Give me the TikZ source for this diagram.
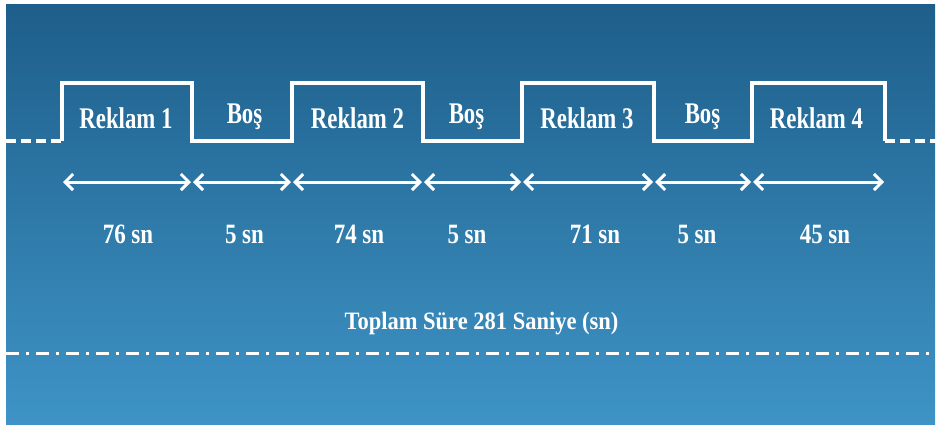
\documentclass[tikz,border=0pt]{standalone}
\usepackage{fontspec}
\usetikzlibrary{arrows.meta}
\newfontfamily\rkfont[FakeStretch=0.76]{Liberation Serif}
\newfontfamily\nbfont[FakeStretch=0.82]{Liberation Serif}
\newfontfamily\tpfont[FakeStretch=0.9]{Liberation Serif}
\definecolor{bgtop}{RGB}{30,94,138}
\definecolor{bgbot}{RGB}{62,148,198}
\tikzset{
  sig/.style={draw=white, line width=3.5pt, line join=miter},
  sigdash/.style={draw=white, line width=3.5pt, dash pattern=on 10pt off 5pt},
  dur/.style={draw=white, line width=3pt, {Straight Barb[length=8pt,width=16pt]}-{Straight Barb[length=8pt,width=16pt]}},
  adlbl/.style={text=white, anchor=base, inner sep=0pt, font=\rkfont\bfseries\fontsize{30}{30}\selectfont},
  numlbl/.style={text=white, anchor=base, inner sep=0pt, font=\nbfont\bfseries\fontsize{28}{28}\selectfont},
  totlbl/.style={text=white, anchor=base, inner sep=0pt, font=\tpfont\bfseries\fontsize{25}{25}\selectfont},
  axisline/.style={draw=white, line width=3pt, dash pattern=on 13pt off 7pt on 3pt off 7pt}
}
\begin{document}
\begin{tikzpicture}[x=1pt,y=-1pt]
\useasboundingbox (0,0) rectangle (937,424);
\shade[top color=bgtop, bottom color=bgbot] (6,4) rectangle (935,424);
% signal coordinates
\coordinate (s0) at (6,141);
\coordinate (a0) at (62,141);   \coordinate (a1) at (62,83);
\coordinate (b1) at (192,83);   \coordinate (b0) at (192,141);
\coordinate (c0) at (292,141);  \coordinate (c1) at (292,83);
\coordinate (d1) at (423,83);   \coordinate (d0) at (423,141);
\coordinate (e0) at (522,141);  \coordinate (e1) at (522,83);
\coordinate (f1) at (654,83);   \coordinate (f0) at (654,141);
\coordinate (g0) at (752,141);  \coordinate (g1) at (752,83);
\coordinate (h1) at (885,83);   \coordinate (h0) at (885,141);
\coordinate (s1) at (937,141);
\draw[sigdash] (s0) -- (a0);
\draw[sig] (a0) -- (a1) -- (b1) -- (b0) -- (c0) -- (c1) -- (d1) -- (d0) -- (e0) -- (e1) -- (f1) -- (f0) -- (g0) -- (g1) -- (h1) -- (h0);
\draw[sigdash] (h0) -- (s1);
% labels in signal
\node[adlbl] (r1) at (126,128) {Reklam 1};
\node[adlbl] (b1l) at (244.5,123) {Boş};
\node[adlbl] (r2) at (357.5,128) {Reklam 2};
\node[adlbl] (b2l) at (466.5,123) {Boş};
\node[adlbl] (r3) at (587,128) {Reklam 3};
\node[adlbl] (b3l) at (702.5,123) {Boş};
\node[adlbl] (r4) at (816.5,128) {Reklam 4};
% duration arrows
\coordinate (p0) at (63,182);
\coordinate (p1) at (192,182);
\coordinate (p2) at (292,182);
\coordinate (p3) at (423,182);
\coordinate (p4) at (522,182);
\coordinate (p5) at (654,182);
\coordinate (p6) at (752,182);
\coordinate (p7) at (884,182);
\draw[dur] (p0) -- ([xshift=-1pt]p1);
\draw[dur] ([xshift=1pt]p1) -- ([xshift=-1pt]p2);
\draw[dur] ([xshift=1pt]p2) -- ([xshift=-1pt]p3);
\draw[dur] ([xshift=1pt]p3) -- ([xshift=-1pt]p4);
\draw[dur] ([xshift=1pt]p4) -- ([xshift=-1pt]p5);
\draw[dur] ([xshift=1pt]p5) -- ([xshift=-1pt]p6);
\draw[dur] ([xshift=1pt]p6) -- (p7);
% durations
\node[numlbl] (n1) at (128,243) {76 sn};
\node[numlbl] (n2) at (244.5,243) {5 sn};
\node[numlbl] (n3) at (359,243) {74 sn};
\node[numlbl] (n4) at (467,243) {5 sn};
\node[numlbl] (n5) at (595,243) {71 sn};
\node[numlbl] (n6) at (697,243) {5 sn};
\node[numlbl] (n7) at (825,243) {45 sn};
% total
\node[totlbl] (tot) at (481.5,329) {Toplam Süre 281 Saniye (sn)};
\coordinate (l0) at (6,353);
\coordinate (l1) at (937,353);
\draw[axisline] (l0) -- (l1);
\end{tikzpicture}
\end{document}
